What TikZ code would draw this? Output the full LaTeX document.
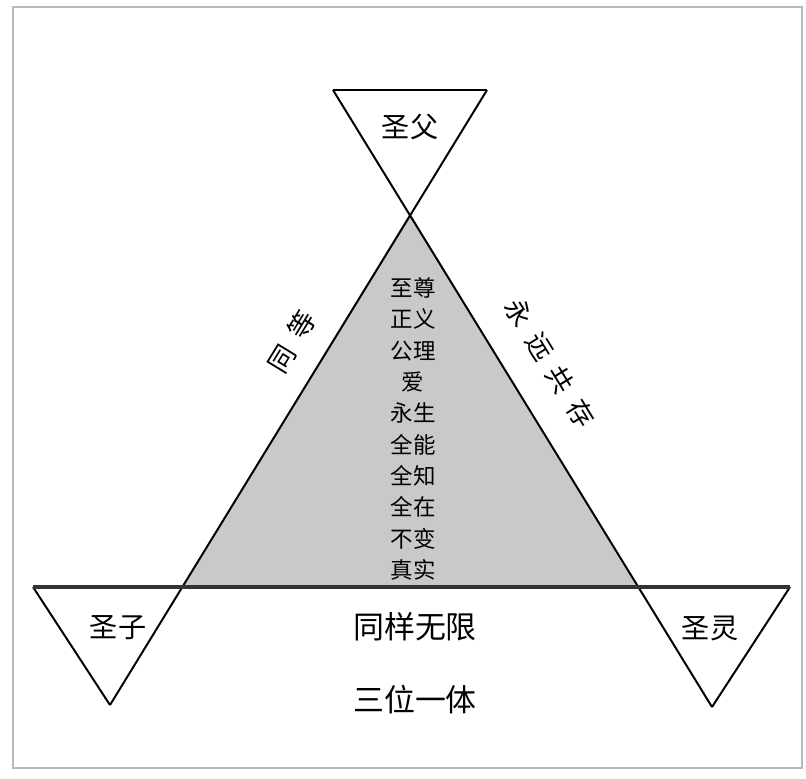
\documentclass[tikz,border=0pt]{standalone}
\usepackage{fontspec}
\setmainfont{Noto Sans CJK SC}
\usetikzlibrary{calc}
\definecolor{mygray}{rgb}{0.79,0.79,0.79}
\definecolor{myframe}{rgb}{0.72,0.72,0.72}
\newcommand{\gapch}{\hspace{9pt}}

\begin{document}
\begin{tikzpicture}[x=0.025cm, y=-0.025cm]
        \useasboundingbox (0,0) rectangle (806,778);
        \draw[myframe, line width=1.3pt] (13,7) rectangle (802,768);
        \coordinate[] (A) at (410,213);
        \coordinate[] (TL) at (333,90);
        \coordinate[] (TR) at (487,90);
        \coordinate[] (BL) at (182,587);
        \coordinate[] (BR) at (638,587);
        \coordinate[] (SL) at (33,587);
        \coordinate[] (SR) at (790,587);
        \coordinate[] (ZL) at (110,705);
        \coordinate[] (ZR) at (712,707);
        \fill[fill=mygray] (A) -- (BL) -- (BR) -- cycle;
        \draw[line width=1.6pt] (TL) -- (TR);
        \draw[line width=1.4pt] (TR) -- (ZL);
        \draw[line width=1.4pt] (TL) -- (ZR);
        \draw[line width=1.4pt] (SL) -- (ZL);
        \draw[line width=1.4pt] (SR) -- (ZR);
        \draw[line width=2.4pt, black!80] (SL) -- (SR);
        \node[font=\fontsize{20}{24}\selectfont] (father) at (410,127) {圣父};
        \node[font=\fontsize{20}{24}\selectfont] (son) at (118,628) {圣子};
        \node[font=\fontsize{20}{24}\selectfont] (spirit) at (710,628) {圣灵};
        \node[font=\fontsize{19}{24}\selectfont, rotate=58.5] (equal) at (292,342) {同\gapch 等};
        \node[font=\fontsize{19}{24}\selectfont, rotate=-58.5] (forever) at (550,363) {永\gapch 远\gapch 共\gapch 存};
        \node[font=\fontsize{16}{22.3}\selectfont, align=center] (attrs) at (413,429)
            {至尊\\正义\\公理\\爱\\永生\\全能\\全知\\全在\\不变\\真实};
        \node[font=\fontsize{22}{26}\selectfont] (infinite) at (415,627) {同样无限};
        \node[font=\fontsize{22}{26}\selectfont] (trinity) at (415,700) {三位一体};
    \end{tikzpicture}
\end{document}
